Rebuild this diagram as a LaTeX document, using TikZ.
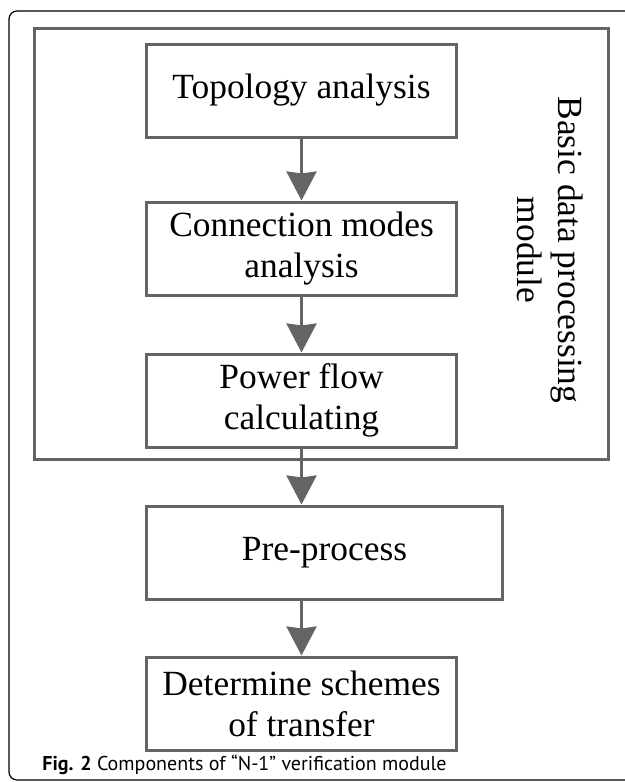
\documentclass[tikz,border=0pt]{standalone}
\usepackage{fontspec}
\setmainfont{Liberation Serif}
\newfontfamily\captionfont{PT Sans}
\usepackage{tikz}
\usetikzlibrary{arrows.meta,positioning}
\definecolor{boxgray}{RGB}{100,100,100}

\begin{document}
\begin{tikzpicture}[>={Stealth[length=14.5pt,width=15pt,inset=1pt]},node distance=28pt,
    block/.style={draw=boxgray,line width=1.5pt,minimum width=155pt,minimum height=46.5pt,
      inner sep=0pt,align=center,font=\fontsize{17.7}{20.5}\selectfont},
    flow/.style={->,color=boxgray,line width=1.5pt}]
    \useasboundingbox (0,0) rectangle (312.5pt,-391pt);
    % outer frame and module box
    \draw[line width=0.6pt,rounded corners=4pt] (4.5pt,-5.5pt) rectangle (330pt,-390pt);
    \draw[draw=boxgray,line width=1.5pt] (17pt,-14pt) rectangle (304pt,-229.5pt);

    \node[block]           (topo)  at (150.75pt,-45.25pt)                 {Topology analysis};
    \node[block]           (conn)  [below=31pt of topo]                  {Connection modes\\analysis};
    \node[block]           (power) [below=of conn]                       {Power flow\\calculating};
    \node[block,minimum width=178pt]
                           (pre)   [below=28pt of power.south west,anchor=north west]  {Pre-process};
    \node[block]           (dets)  [below=27.5pt of pre.south west,anchor=north west]  {Determine schemes\\of transfer};

    \node[rotate=-90,align=center,font=\fontsize{17.7}{20.5}\selectfont]
                           (modlabel) at (275pt,-125pt)                  {Basic data processing\\module};
    \node[anchor=base west,inner sep=0pt,font=\captionfont\fontsize{10}{12}\selectfont]
                           (cap)   at (21pt,-385pt)  {\textbf{Fig. 2} Components of “N-1” verification module};

    \path [flow]
    (topo) edge (conn)
    (conn) edge (power)
    (power.south) edge (power.south |- pre.north)
    (power.south |- pre.south) edge (dets.north);
  \end{tikzpicture}
\end{document}
